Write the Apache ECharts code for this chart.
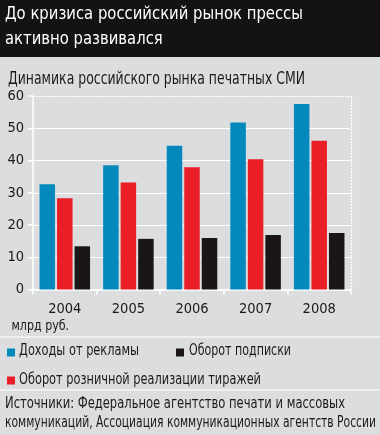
<!DOCTYPE html>
<html><head><meta charset="utf-8">
<script src="https://cdn.jsdelivr.net/npm/echarts@6/dist/echarts.min.js"></script>
<style>html,body{margin:0;padding:0;background:#dcdddf}#c{width:380px;height:435px}</style>
</head><body><div id="c"></div>
<script>
var categories = ['2004','2005','2006','2007','2008'];
var adRevenue = [32.6, 38.5, 44.6, 51.8, 57.5];
var retailTurnover = [28.3, 33.2, 37.9, 40.4, 46.1];
var subscriptionTurnover = [13.4, 15.7, 16.0, 16.9, 17.5];
var seriesNames = ['Доходы от рекламы', 'Оборот розничной реализации тиражей', 'Оборот подписки'];
var yTicks = [0, 10, 20, 30, 40, 50, 60];
var titleLines = ['До кризиса российский рынок прессы', 'активно развивался'];
var subtitleText = 'Динамика российского рынка печатных СМИ';
var unitText = 'млрд руб.';
var sourceLines = ['Источники: Федеральное агентство печати и массовых', 'коммуникаций, Ассоциация коммуникационных агентств России'];

var FONT = '"DejaVu Sans Condensed", "DejaVu Sans", sans-serif';
var colors = ['#0489bd', '#e91e26', '#1a1617'];

var mctx = document.createElement('canvas').getContext('2d');
function measure(text, size) { mctx.font = size + 'px ' + FONT; return mctx.measureText(text).width; }
// condensed text: x, baseline y, font size, target width (or fixed scale)
function ctext(text, x, baseline, size, color, targetWidth, fixedScale) {
  var sc = fixedScale || (targetWidth / measure(text, size));
  return {type: 'group', x: x, y: baseline - 0.346 * size, scaleX: sc, z: 10, children: [
    {type: 'text', style: {text: text, x: 0, y: 0, fill: color, font: size + 'px ' + FONT, verticalAlign: 'middle', align: 'left'}}
  ]};
}
var titleScale = 298 / measure(titleLines[0], 18.5);

var chart = echarts.init(document.getElementById('c'), null, {renderer: 'canvas'});
var legendBase = {icon: 'rect', itemWidth: 8, itemHeight: 8, itemGap: 0, formatter: function () { return ''; },
  textStyle: {fontSize: 1}, selectedMode: false, padding: 0};
var topVal = yTicks[yTicks.length - 1];
chart.setOption({
  backgroundColor: '#dcdddf',
  animation: false,
  color: colors,
  graphic: [
    {type: 'rect', shape: {x: 0, y: 0, width: 380, height: 57}, style: {fill: '#141212'}, z: 0},
    {type: 'line', shape: {x1: 0, y1: 337, x2: 380, y2: 337}, style: {stroke: '#f4f4f4', lineWidth: 1.5}},
    {type: 'line', shape: {x1: 0, y1: 390, x2: 380, y2: 390}, style: {stroke: '#f4f4f4', lineWidth: 1.5}},
    ctext(titleLines[0], 5, 21, 18.5, '#ffffff', 0, titleScale),
    ctext(titleLines[1], 5, 46, 18.5, '#ffffff', 0, titleScale),
    ctext(subtitleText, 8, 85.5, 17, '#1a1a1a', 297),
    ctext(unitText, 11.5, 331.7, 14.5, '#1a1a1a', 57.6),
    ctext(seriesNames[0], 19, 356.7, 16, '#1a1a1a', 120),
    ctext(seriesNames[2], 189, 356.7, 16, '#1a1a1a', 102),
    ctext(seriesNames[1], 19, 385, 16, '#1a1a1a', 242),
    ctext(sourceLines[0], 5, 409.3, 16, '#1a1a1a', 340),
    ctext(sourceLines[1], 5, 428, 16, '#1a1a1a', 371)
  ],
  legend: [
    Object.assign({data: [seriesNames[0]], left: 7, top: 348.5}, legendBase),
    Object.assign({data: [seriesNames[2]], left: 176, top: 348.5}, legendBase),
    Object.assign({data: [seriesNames[1]], left: 7, top: 376.5}, legendBase)
  ],
  grid: {left: 33, right: 29, top: 96, bottom: 145.5, containLabel: false, show: false},
  xAxis: {
    type: 'category', data: categories,
    axisLine: {show: true, lineStyle: {color: '#ffffff', width: 1.5}},
    axisTick: {show: true, length: 5, lineStyle: {color: '#ffffff', width: 1.5}},
    axisLabel: {fontFamily: FONT, fontSize: 14.5, color: '#1a1a1a', margin: 12}
  },
  yAxis: {
    type: 'value', min: yTicks[0], max: topVal, interval: 10,
    axisLine: {show: true, lineStyle: {color: '#ffffff', width: 1.5}},
    axisTick: {show: true, length: 5, lineStyle: {color: '#ffffff', width: 1.5}},
    axisLabel: {fontFamily: FONT, fontSize: 14.5, color: '#1a1a1a', margin: 9},
    splitLine: {show: true, lineStyle: {color: ['#ffffff','#ffffff','#ffffff','#ffffff','#ffffff','#ffffff','rgba(0,0,0,0)'], width: 1.2}}
  },
  series: [
    {name: seriesNames[0], type: 'bar', data: adRevenue, barWidth: 15.5, barGap: '13%', barCategoryGap: '22%',
      markLine: {silent: true, symbol: 'none', label: {show: false},
        lineStyle: {color: '#ffffff', type: [2, 1], width: 1.2},
        data: [{yAxis: topVal}]}},
    {name: seriesNames[1], type: 'bar', data: retailTurnover, barWidth: 15.5, barGap: '13%'},
    {name: seriesNames[2], type: 'bar', data: subscriptionTurnover, barWidth: 15.5, barGap: '13%',
      markLine: {silent: true, symbol: 'none', label: {show: false},
        lineStyle: {color: '#ffffff', type: [2, 1], width: 1.2},
        data: [[{x: 351, y: 96}, {x: 351, y: 289.5}]]}}
  ]
});
</script></body></html>
